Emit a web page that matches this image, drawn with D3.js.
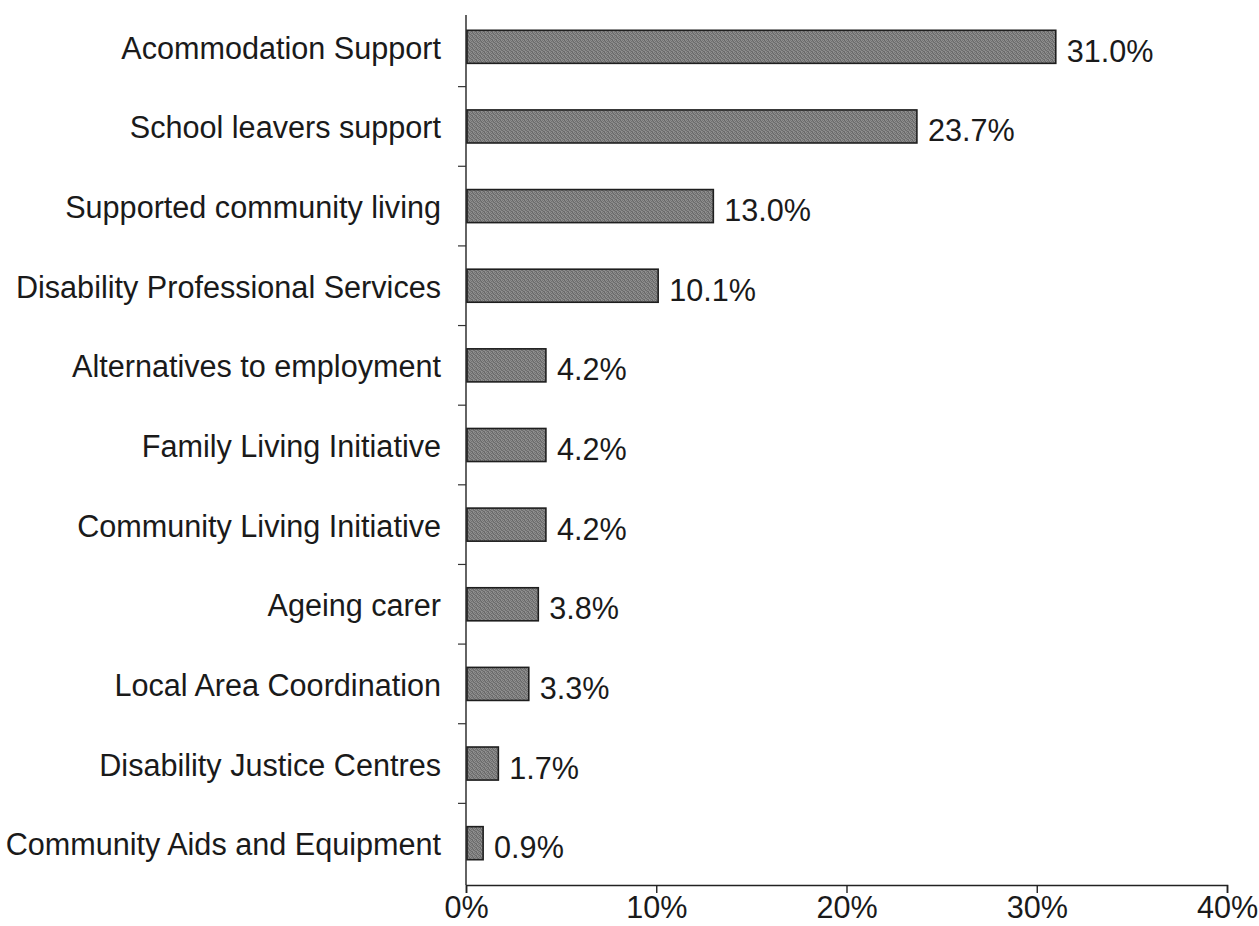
<!DOCTYPE html>
<html>
<head>
<meta charset="utf-8">
<script src="https://cdn.jsdelivr.net/npm/d3@7"></script>
<style>
  html, body { margin: 0; padding: 0; background: #fff; }
  svg { display: block; }
  text { font-family: "Liberation Sans", Arial, Helvetica, sans-serif; fill: #1a1a1a; }
</style>
</head>
<body>
<svg id="chart" width="1259" height="926"></svg>
<script>
const categories = [
  "Acommodation Support",
  "School leavers support",
  "Supported community living",
  "Disability Professional Services",
  "Alternatives to employment",
  "Family Living Initiative",
  "Community Living Initiative",
  "Ageing carer",
  "Local Area Coordination",
  "Disability Justice Centres",
  "Community Aids and Equipment"
];
const values = [31.0, 23.7, 13.0, 10.1, 4.2, 4.2, 4.2, 3.8, 3.3, 1.7, 0.9];
const xTicks = [0, 10, 20, 30, 40];

const svg = d3.select("#chart");
const FS = "30.6px";

// stippled grey texture for bars
const defs = svg.append("defs");
const pat = defs.append("pattern")
  .attr("id", "stipple").attr("patternUnits", "userSpaceOnUse")
  .attr("width", 4).attr("height", 4);
const shades = [
  ["#686868", "#8a8a8a", "#767676", "#909090"],
  ["#7e7e7e", "#6a6a6a", "#929292", "#727272"],
  ["#8e8e8e", "#747474", "#6c6c6c", "#888888"],
  ["#707070", "#949494", "#848484", "#6a6a6a"]
];
shades.forEach((row, r) => row.forEach((c, k) => {
  pat.append("rect").attr("x", k).attr("y", r).attr("width", 1).attr("height", 1).attr("fill", c);
}));

const x = d3.scaleLinear().domain([0, 40]).range([466, 1227]);
const y = d3.scaleBand().domain(categories).range([7, 883])
  .paddingInner(0.585).paddingOuter(0.2925);

const gx = svg.append("g").attr("transform", "translate(0,885)")
  .call(d3.axisBottom(x).tickValues(xTicks).tickSize(8).tickPadding(3)
    .tickFormat(d => d + "%"));
gx.select(".domain").attr("stroke", "#222").attr("stroke-width", 1.6);
gx.selectAll(".tick line").attr("stroke", "#222").attr("stroke-width", 1.4);
gx.selectAll(".tick text").style("font-size", FS)
  .style("font-family", "'Liberation Sans', Arial, sans-serif").attr("fill", "#1a1a1a");

// vertical axis line
svg.append("line")
  .attr("x1", x(0)).attr("x2", x(0)).attr("y1", 15).attr("y2", 885)
  .attr("stroke", "#222").attr("stroke-width", 1.4);

// y ticks at band boundaries
const step = y.step();
const gap = step * y.paddingInner();
categories.slice(1).forEach(c => {
  const yy = y(c) - gap / 2;
  svg.append("line")
    .attr("x1", x(0) - 8).attr("x2", x(0)).attr("y1", yy).attr("y2", yy)
    .attr("stroke", "#333").attr("stroke-width", 1.2);
});

// bars
svg.append("g").selectAll("rect").data(values).join("rect")
  .attr("x", x(0) + 1)
  .attr("y", (d, i) => y(categories[i]))
  .attr("width", d => x(d) - x(0) - 1)
  .attr("height", y.bandwidth())
  .attr("fill", "url(#stipple)")
  .attr("stroke", "#1e1e1e").attr("stroke-width", 1.6);

// category labels
svg.append("g").selectAll("text").data(categories).join("text")
  .attr("x", x(0) - 25)
  .attr("y", d => y(d) + y.bandwidth() / 2 + 12)
  .attr("text-anchor", "end")
  .style("font-size", FS)
  .text(d => d);

// value labels
svg.append("g").selectAll("text").data(values).join("text")
  .attr("x", d => x(d) + 11)
  .attr("y", (d, i) => y(categories[i]) + y.bandwidth() / 2 + 15)
  .style("font-size", FS)
  .text(d => d.toFixed(1) + "%");
</script>
</body>
</html>
